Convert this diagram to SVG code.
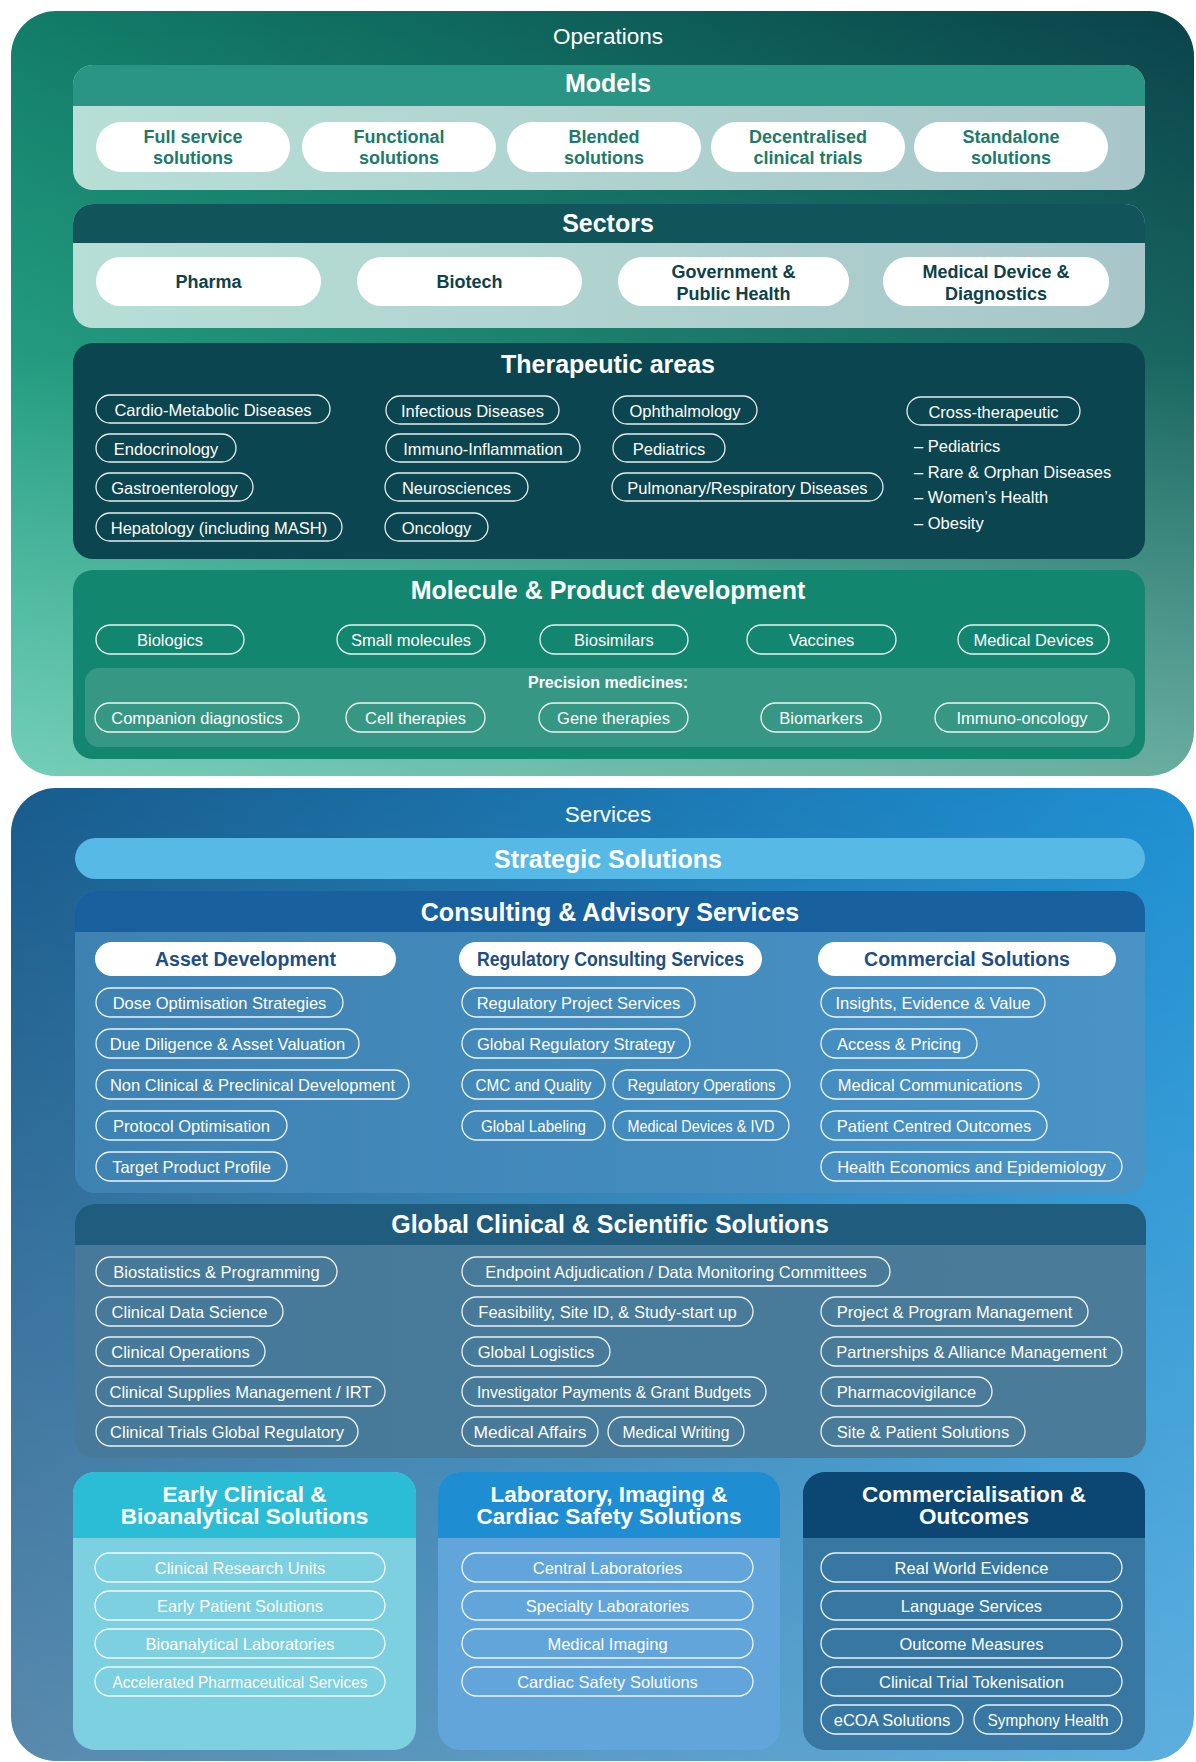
<svg xmlns="http://www.w3.org/2000/svg" width="1196" height="1762" viewBox="0 0 1196 1762">
<style>
text{font-family:'Liberation Sans',Arial,sans-serif}
.ttl{font-weight:bold;font-size:25px;fill:#fff;text-anchor:middle}
.btl{font-weight:bold;font-size:22.5px;fill:#fff;text-anchor:middle}
.sec{font-size:22.5px;fill:#fff;text-anchor:middle}
.po{fill:none;stroke:#fff;stroke-width:1.3;stroke-opacity:.9}
.pt{font-size:16.5px;fill:#fff;text-anchor:middle}
.lt{font-size:16.5px;fill:#fff}
.wp{fill:#fff}
.mt{font-weight:bold;font-size:18px;fill:#1e7a69;text-anchor:middle}
.st{font-weight:bold;font-size:18px;fill:#0e4148;text-anchor:middle}
.ch{font-weight:bold;font-size:19.5px;fill:#1f4e86;text-anchor:middle}
.pm{font-weight:bold;font-size:16px;fill:#fff;text-anchor:middle}
</style>
<defs>
<linearGradient id="opsBase" x1="1" y1="0" x2="0" y2="1">
<stop offset="0" stop-color="#0a434a"/><stop offset="0.5" stop-color="#127d69"/><stop offset="1" stop-color="#22b790"/>
</linearGradient>
<linearGradient id="opsOv" x1="0" y1="0" x2="0" y2="1">
<stop offset="0" stop-color="#e4eeee" stop-opacity="0"/><stop offset="0.45" stop-color="#e4eeee" stop-opacity="0.05"/><stop offset="1" stop-color="#e4eeee" stop-opacity="0.42"/>
</linearGradient>
<linearGradient id="srvBase" x1="0" y1="0" x2="1" y2="0">
<stop offset="0" stop-color="#185c8d"/><stop offset="1" stop-color="#1e90d2"/>
</linearGradient>
<linearGradient id="srvOv" x1="0" y1="0" x2="0" y2="1">
<stop offset="0" stop-color="#ffffff" stop-opacity="0"/><stop offset="1" stop-color="#ffffff" stop-opacity="0.28"/>
</linearGradient>
<linearGradient id="lightBody" x1="0" y1="0" x2="1" y2="0">
<stop offset="0" stop-color="#b7dfd6"/><stop offset="1" stop-color="#a8c6c9"/>
</linearGradient>
<linearGradient id="consBody" x1="0" y1="0" x2="1" y2="0">
<stop offset="0" stop-color="#3e82b2"/><stop offset="1" stop-color="#4993c7"/>
</linearGradient>
<linearGradient id="gcBody" x1="0" y1="0" x2="1" y2="0">
<stop offset="0" stop-color="#46799a"/><stop offset="1" stop-color="#4a7c99"/>
</linearGradient>
</defs>
<rect x="0" y="0" width="1196" height="1762" fill="#ffffff"/>

<g id="operations">
<rect x="11" y="11" width="1183" height="765" rx="45" fill="url(#opsBase)"/>
<rect x="11" y="11" width="1183" height="765" rx="45" fill="url(#opsOv)"/>
<text class="sec" x="608" y="44">Operations</text>
</g>

<g id="models">
<rect x="73" y="65" width="1072" height="125" rx="20" fill="url(#lightBody)"/>
<path d="M73,106 V85 A20,20 0 0 1 93,65 H1125 A20,20 0 0 1 1145,85 V106 Z" fill="#2a9584"/>
<text class="ttl" x="608" y="92">Models</text>
<g id="m-full"><rect class="wp" x="96" y="122" width="194" height="50" rx="25"/><text class="mt" x="193" y="143">Full service</text><text class="mt" x="193" y="164">solutions</text></g>
<g id="m-functional"><rect class="wp" x="302" y="122" width="194" height="50" rx="25"/><text class="mt" x="399" y="143">Functional</text><text class="mt" x="399" y="164">solutions</text></g>
<g id="m-blended"><rect class="wp" x="507" y="122" width="194" height="50" rx="25"/><text class="mt" x="604" y="143">Blended</text><text class="mt" x="604" y="164">solutions</text></g>
<g id="m-dct"><rect class="wp" x="711" y="122" width="194" height="50" rx="25"/><text class="mt" x="808" y="143">Decentralised</text><text class="mt" x="808" y="164">clinical trials</text></g>
<g id="m-standalone"><rect class="wp" x="914" y="122" width="194" height="50" rx="25"/><text class="mt" x="1011" y="143">Standalone</text><text class="mt" x="1011" y="164">solutions</text></g>
</g>

<g id="sectors">
<rect x="73" y="204" width="1072" height="124" rx="20" fill="url(#lightBody)"/>
<path d="M73,243 V224 A20,20 0 0 1 93,204 H1125 A20,20 0 0 1 1145,224 V243 Z" fill="#11555a"/>
<text class="ttl" x="608" y="232">Sectors</text>
<g id="s-pharma"><rect class="wp" x="96" y="257" width="225" height="49" rx="24.5"/><text class="st" x="208.5" y="288">Pharma</text></g>
<g id="s-biotech"><rect class="wp" x="357" y="257" width="225" height="49" rx="24.5"/><text class="st" x="469.5" y="288">Biotech</text></g>
<g id="s-gov"><rect class="wp" x="618" y="257" width="231" height="49" rx="24.5"/><text class="st" x="733.5" y="278">Government &amp;</text><text class="st" x="733.5" y="300">Public Health</text></g>
<g id="s-meddev"><rect class="wp" x="883" y="257" width="226" height="49" rx="24.5"/><text class="st" x="996" y="278">Medical Device &amp;</text><text class="st" x="996" y="300">Diagnostics</text></g>
</g>

<g id="therapeutic-areas">
<rect x="73" y="343" width="1072" height="216" rx="20" fill="#0b4550"/>
<text class="ttl" x="608" y="373">Therapeutic areas</text>
<g id="ta-cardio"><rect class="po" x="96" y="395" width="234" height="28" rx="14"/><text class="pt" x="213" y="415.5">Cardio-Metabolic Diseases</text></g>
<g id="ta-endo"><rect class="po" x="96" y="434" width="140" height="28" rx="14"/><text class="pt" x="166" y="454.5">Endocrinology</text></g>
<g id="ta-gastro"><rect class="po" x="96" y="473" width="157" height="28" rx="14"/><text class="pt" x="174.5" y="493.5">Gastroenterology</text></g>
<g id="ta-hepato"><rect class="po" x="96" y="513" width="246" height="28" rx="14"/><text class="pt" x="219" y="533.5">Hepatology (including MASH)</text></g>
<g id="ta-infectious"><rect class="po" x="386" y="396" width="173" height="28" rx="14"/><text class="pt" x="472.5" y="416.5">Infectious Diseases</text></g>
<g id="ta-immuno"><rect class="po" x="386" y="434" width="194" height="28" rx="14"/><text class="pt" x="483" y="454.5">Immuno-Inflammation</text></g>
<g id="ta-neuro"><rect class="po" x="385" y="473" width="143" height="28" rx="14"/><text class="pt" x="456.5" y="493.5">Neurosciences</text></g>
<g id="ta-onco"><rect class="po" x="385" y="513" width="103" height="28" rx="14"/><text class="pt" x="436.5" y="533.5">Oncology</text></g>
<g id="ta-ophth"><rect class="po" x="613" y="396" width="144" height="28" rx="14"/><text class="pt" x="685" y="416.5">Ophthalmology</text></g>
<g id="ta-pedi"><rect class="po" x="613" y="434" width="112" height="28" rx="14"/><text class="pt" x="669" y="454.5">Pediatrics</text></g>
<g id="ta-pulm"><rect class="po" x="612" y="473" width="271" height="28" rx="14"/><text class="pt" x="747.5" y="493.5">Pulmonary/Respiratory Diseases</text></g>
<g id="ta-cross"><rect class="po" x="907" y="397" width="173" height="28" rx="14"/><text class="pt" x="993.5" y="417.5">Cross-therapeutic</text>
<text class="lt" x="914" y="452">– Pediatrics</text>
<text class="lt" x="914" y="478">– Rare &amp; Orphan Diseases</text>
<text class="lt" x="914" y="503">– Women’s Health</text>
<text class="lt" x="914" y="529">– Obesity</text></g>
</g>

<g id="molecule">
<rect x="73" y="570" width="1072" height="189" rx="20" fill="#13866f"/>
<text class="ttl" x="608" y="599">Molecule &amp; Product development</text>
<g id="mo-bio"><rect class="po" x="96" y="625" width="148" height="29" rx="14.5"/><text class="pt" x="170" y="645.5">Biologics</text></g>
<g id="mo-small"><rect class="po" x="337" y="625" width="148" height="29" rx="14.5"/><text class="pt" x="411" y="645.5">Small molecules</text></g>
<g id="mo-biosim"><rect class="po" x="540" y="625" width="148" height="29" rx="14.5"/><text class="pt" x="614" y="645.5">Biosimilars</text></g>
<g id="mo-vacc"><rect class="po" x="747" y="625" width="149" height="29" rx="14.5"/><text class="pt" x="821.5" y="645.5">Vaccines</text></g>
<g id="mo-meddev"><rect class="po" x="958" y="625" width="151" height="29" rx="14.5"/><text class="pt" x="1033.5" y="645.5">Medical Devices</text></g>
<g id="precision">
<rect x="85" y="668" width="1050" height="79" rx="14" fill="#ffffff" fill-opacity="0.15"/>
<text class="pm" x="608" y="688">Precision medicines:</text>
<g id="pr-comp"><rect class="po" x="95" y="703" width="204" height="29" rx="14.5"/><text class="pt" x="197" y="723.5">Companion diagnostics</text></g>
<g id="pr-cell"><rect class="po" x="346" y="703" width="139" height="29" rx="14.5"/><text class="pt" x="415.5" y="723.5">Cell therapies</text></g>
<g id="pr-gene"><rect class="po" x="539" y="703" width="149" height="29" rx="14.5"/><text class="pt" x="613.5" y="723.5">Gene therapies</text></g>
<g id="pr-biom"><rect class="po" x="761" y="703" width="120" height="29" rx="14.5"/><text class="pt" x="821" y="723.5">Biomarkers</text></g>
<g id="pr-io"><rect class="po" x="935" y="703" width="174" height="29" rx="14.5"/><text class="pt" x="1022" y="723.5">Immuno-oncology</text></g>
</g>
</g>

<g id="services">
<rect x="11" y="788" width="1183" height="973" rx="45" fill="url(#srvBase)"/>
<rect x="11" y="788" width="1183" height="973" rx="45" fill="url(#srvOv)"/>
<text class="sec" x="608" y="822">Services</text>
</g>

<g id="strategic">
<rect x="75" y="838" width="1070" height="41" rx="20.5" fill="#56b9e6"/>
<text class="ttl" x="608" y="868">Strategic Solutions</text>
</g>

<g id="consulting">
<rect x="75" y="891" width="1070" height="302" rx="20" fill="url(#consBody)"/>
<path d="M75,932 V911 A20,20 0 0 1 95,891 H1125 A20,20 0 0 1 1145,911 V932 Z" fill="#19619e"/>
<text class="ttl" x="610" y="921">Consulting &amp; Advisory Services</text>
<g id="c-asset"><rect class="wp" x="95" y="942" width="301" height="34" rx="17"/><text class="ch" x="245.5" y="966">Asset Development</text>
<g><rect class="po" x="96" y="988" width="247" height="29" rx="14.5"/><text class="pt" x="219.5" y="1008.5">Dose Optimisation Strategies</text></g>
<g><rect class="po" x="96" y="1029" width="263" height="29" rx="14.5"/><text class="pt" x="227.5" y="1049.5">Due Diligence &amp; Asset Valuation</text></g>
<g><rect class="po" x="96" y="1070" width="313" height="29" rx="14.5"/><text class="pt" x="252.5" y="1090.5">Non Clinical &amp; Preclinical Development</text></g>
<g><rect class="po" x="96" y="1111" width="191" height="29" rx="14.5"/><text class="pt" x="191.5" y="1131.5">Protocol Optimisation</text></g>
<g><rect class="po" x="96" y="1152" width="191" height="29" rx="14.5"/><text class="pt" x="191.5" y="1172.5">Target Product Profile</text></g>
</g>
<g id="c-reg"><rect class="wp" x="459" y="942" width="303" height="34" rx="17"/><text class="ch" x="610.5" y="966" textLength="267" lengthAdjust="spacingAndGlyphs">Regulatory Consulting Services</text>
<g><rect class="po" x="462" y="988" width="233" height="29" rx="14.5"/><text class="pt" x="578.5" y="1008.5">Regulatory Project Services</text></g>
<g><rect class="po" x="462" y="1029" width="228" height="29" rx="14.5"/><text class="pt" x="576" y="1049.5">Global Regulatory Strategy</text></g>
<g><rect class="po" x="462" y="1070" width="143" height="29" rx="14.5"/><text class="pt" x="533.5" y="1090.5" textLength="116" lengthAdjust="spacingAndGlyphs">CMC and Quality</text></g>
<g><rect class="po" x="613" y="1070" width="177" height="29" rx="14.5"/><text class="pt" x="701.5" y="1090.5" textLength="148" lengthAdjust="spacingAndGlyphs">Regulatory Operations</text></g>
<g><rect class="po" x="462" y="1111" width="143" height="29" rx="14.5"/><text class="pt" x="533.5" y="1131.5" textLength="105" lengthAdjust="spacingAndGlyphs">Global Labeling</text></g>
<g><rect class="po" x="613" y="1111" width="176" height="29" rx="14.5"/><text class="pt" x="701" y="1131.5" textLength="147" lengthAdjust="spacingAndGlyphs">Medical Devices &amp; IVD</text></g>
</g>
<g id="c-comm"><rect class="wp" x="818" y="942" width="298" height="34" rx="17"/><text class="ch" x="967" y="966">Commercial Solutions</text>
<g><rect class="po" x="821" y="988" width="224" height="29" rx="14.5"/><text class="pt" x="933" y="1008.5">Insights, Evidence &amp; Value</text></g>
<g><rect class="po" x="821" y="1029" width="156" height="29" rx="14.5"/><text class="pt" x="899" y="1049.5">Access &amp; Pricing</text></g>
<g><rect class="po" x="821" y="1070" width="218" height="29" rx="14.5"/><text class="pt" x="930" y="1090.5">Medical Communications</text></g>
<g><rect class="po" x="821" y="1111" width="226" height="29" rx="14.5"/><text class="pt" x="934" y="1131.5">Patient Centred Outcomes</text></g>
<g><rect class="po" x="821" y="1152" width="301" height="29" rx="14.5"/><text class="pt" x="971.5" y="1172.5">Health Economics and Epidemiology</text></g>
</g>
</g>

<g id="global-clinical">
<rect x="75" y="1204" width="1071" height="254" rx="20" fill="url(#gcBody)"/>
<path d="M75,1245 V1224 A20,20 0 0 1 95,1204 H1126 A20,20 0 0 1 1146,1224 V1245 Z" fill="#1f5c7e"/>
<text class="ttl" x="610" y="1233">Global Clinical &amp; Scientific Solutions</text>
<g><rect class="po" x="96" y="1257" width="241" height="29" rx="14.5"/><text class="pt" x="216.5" y="1277.5">Biostatistics &amp; Programming</text></g>
<g><rect class="po" x="96" y="1297" width="187" height="29" rx="14.5"/><text class="pt" x="189.5" y="1317.5">Clinical Data Science</text></g>
<g><rect class="po" x="96" y="1337" width="169" height="29" rx="14.5"/><text class="pt" x="180.5" y="1357.5">Clinical Operations</text></g>
<g><rect class="po" x="96" y="1377" width="289" height="29" rx="14.5"/><text class="pt" x="240.5" y="1397.5">Clinical Supplies Management / IRT</text></g>
<g><rect class="po" x="96" y="1417" width="262" height="29" rx="14.5"/><text class="pt" x="227" y="1437.5">Clinical Trials Global Regulatory</text></g>
<g><rect class="po" x="462" y="1257" width="428" height="29" rx="14.5"/><text class="pt" x="676" y="1277.5">Endpoint Adjudication / Data Monitoring Committees</text></g>
<g><rect class="po" x="462" y="1297" width="291" height="29" rx="14.5"/><text class="pt" x="607.5" y="1317.5">Feasibility, Site ID, &amp; Study-start up</text></g>
<g><rect class="po" x="462" y="1337" width="148" height="29" rx="14.5"/><text class="pt" x="536" y="1357.5">Global Logistics</text></g>
<g><rect class="po" x="462" y="1377" width="304" height="29" rx="14.5"/><text class="pt" x="614" y="1397.5" textLength="274" lengthAdjust="spacingAndGlyphs">Investigator Payments &amp; Grant Budgets</text></g>
<g><rect class="po" x="462" y="1417" width="136" height="29" rx="14.5"/><text class="pt" x="530" y="1437.5" textLength="113" lengthAdjust="spacingAndGlyphs">Medical Affairs</text></g>
<g><rect class="po" x="608" y="1417" width="136" height="29" rx="14.5"/><text class="pt" x="676" y="1437.5" textLength="107" lengthAdjust="spacingAndGlyphs">Medical Writing</text></g>
<g><rect class="po" x="821" y="1297" width="267" height="29" rx="14.5"/><text class="pt" x="954.5" y="1317.5">Project &amp; Program Management</text></g>
<g><rect class="po" x="821" y="1337" width="301" height="29" rx="14.5"/><text class="pt" x="971.5" y="1357.5">Partnerships &amp; Alliance Management</text></g>
<g><rect class="po" x="821" y="1377" width="171" height="29" rx="14.5"/><text class="pt" x="906.5" y="1397.5">Pharmacovigilance</text></g>
<g><rect class="po" x="821" y="1417" width="204" height="29" rx="14.5"/><text class="pt" x="923" y="1437.5">Site &amp; Patient Solutions</text></g>
</g>

<g id="early-clinical">
<rect x="73" y="1472" width="343" height="278" rx="22" fill="#7dd0e0"/>
<path d="M73,1538 V1494 A22,22 0 0 1 95,1472 H394 A22,22 0 0 1 416,1494 V1538 Z" fill="#2bbdd5"/>
<text class="btl" x="244.5" y="1502">Early Clinical &amp;</text>
<text class="btl" x="244.5" y="1524">Bioanalytical Solutions</text>
<g><rect class="po" x="95" y="1553" width="290" height="29" rx="14.5"/><text class="pt" x="240" y="1573.5">Clinical Research Units</text></g>
<g><rect class="po" x="95" y="1591" width="290" height="29" rx="14.5"/><text class="pt" x="240" y="1611.5">Early Patient Solutions</text></g>
<g><rect class="po" x="95" y="1629" width="290" height="29" rx="14.5"/><text class="pt" x="240" y="1649.5">Bioanalytical Laboratories</text></g>
<g><rect class="po" x="95" y="1667" width="290" height="29" rx="14.5"/><text class="pt" x="240" y="1687.5" textLength="255" lengthAdjust="spacingAndGlyphs">Accelerated Pharmaceutical Services</text></g>
</g>

<g id="laboratory">
<rect x="438" y="1472" width="342" height="278" rx="22" fill="#61a5db"/>
<path d="M438,1538 V1494 A22,22 0 0 1 460,1472 H758 A22,22 0 0 1 780,1494 V1538 Z" fill="#1f8dd1"/>
<text class="btl" x="609" y="1502">Laboratory, Imaging &amp;</text>
<text class="btl" x="609" y="1524">Cardiac Safety Solutions</text>
<g><rect class="po" x="462" y="1553" width="291" height="29" rx="14.5"/><text class="pt" x="607.5" y="1573.5">Central Laboratories</text></g>
<g><rect class="po" x="462" y="1591" width="291" height="29" rx="14.5"/><text class="pt" x="607.5" y="1611.5">Specialty Laboratories</text></g>
<g><rect class="po" x="462" y="1629" width="291" height="29" rx="14.5"/><text class="pt" x="607.5" y="1649.5">Medical Imaging</text></g>
<g><rect class="po" x="462" y="1667" width="291" height="29" rx="14.5"/><text class="pt" x="607.5" y="1687.5">Cardiac Safety Solutions</text></g>
</g>

<g id="commercialisation">
<rect x="803" y="1472" width="342" height="278" rx="22" fill="#3777a2"/>
<path d="M803,1538 V1494 A22,22 0 0 1 825,1472 H1123 A22,22 0 0 1 1145,1494 V1538 Z" fill="#0c4672"/>
<text class="btl" x="974" y="1502">Commercialisation &amp;</text>
<text class="btl" x="974" y="1524">Outcomes</text>
<g><rect class="po" x="821" y="1553" width="301" height="29" rx="14.5"/><text class="pt" x="971.5" y="1573.5">Real World Evidence</text></g>
<g><rect class="po" x="821" y="1591" width="301" height="29" rx="14.5"/><text class="pt" x="971.5" y="1611.5">Language Services</text></g>
<g><rect class="po" x="821" y="1629" width="301" height="29" rx="14.5"/><text class="pt" x="971.5" y="1649.5">Outcome Measures</text></g>
<g><rect class="po" x="821" y="1667" width="301" height="29" rx="14.5"/><text class="pt" x="971.5" y="1687.5">Clinical Trial Tokenisation</text></g>
<g><rect class="po" x="821" y="1705" width="142" height="29" rx="14.5"/><text class="pt" x="892" y="1725.5">eCOA Solutions</text></g>
<g><rect class="po" x="974" y="1705" width="148" height="29" rx="14.5"/><text class="pt" x="1048" y="1725.5" textLength="121" lengthAdjust="spacingAndGlyphs">Symphony Health</text></g>
</g>

<g id="connectors"></g>
</svg>
